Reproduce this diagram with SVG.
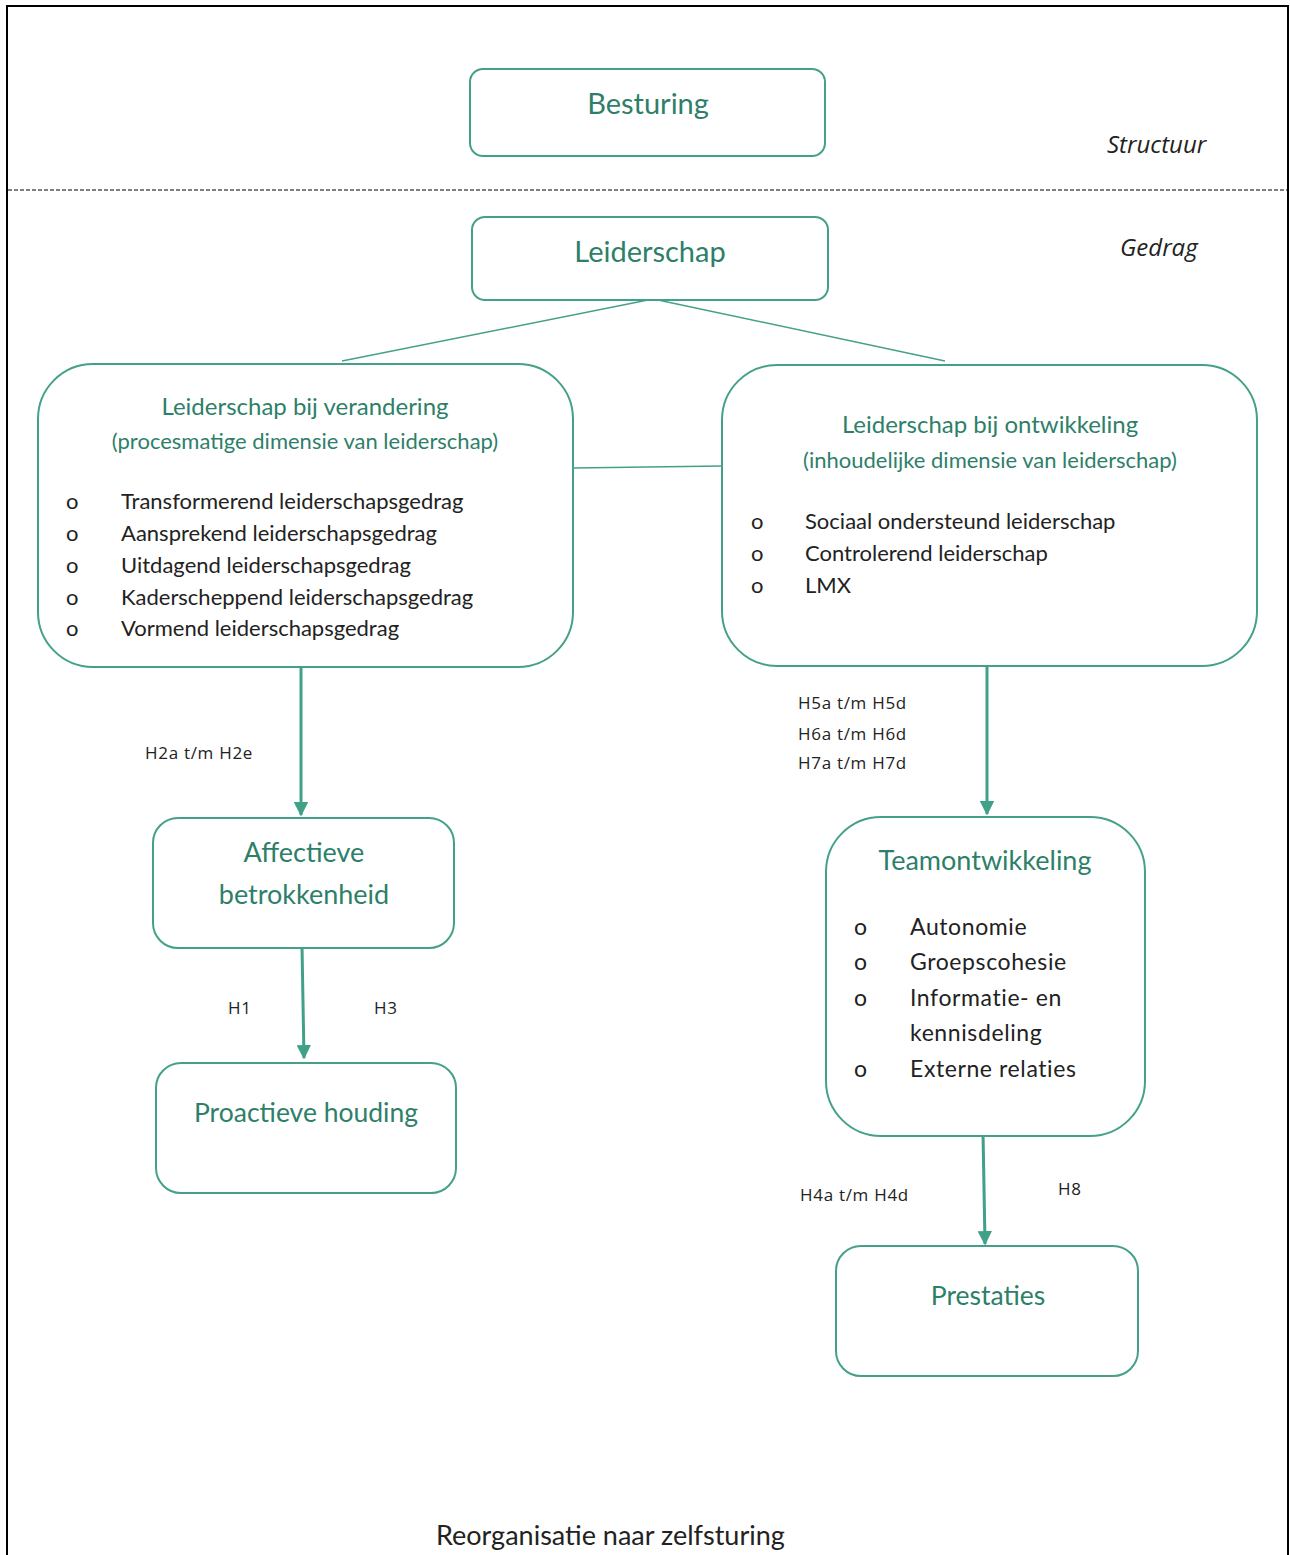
<svg xmlns="http://www.w3.org/2000/svg" width="1290" height="1555" viewBox="0 0 1290 1555">
  <defs>
    <marker id="arrow" viewBox="0 0 10 10" refX="9" refY="5" markerWidth="4.8" markerHeight="4.8" orient="auto" markerUnits="strokeWidth">
      <path d="M0,0 L10,5 L0,10 z" fill="#41a088"/>
    </marker>
    <style>
      text { font-family: Lato, "Open Sans", "Liberation Sans", sans-serif; }
      .box { fill: #ffffff; stroke: #45a08a; stroke-width: 2; }
      .title { fill: #2e7f6a; text-anchor: middle; }
      .item { fill: #222222; font-family: "Open Sans", "Liberation Sans", sans-serif; font-size: 22px; }
      .hyp { fill: #222222; font-family: "Open Sans", "Liberation Sans", sans-serif; font-size: 17px; letter-spacing: 0.7px; }
      .side { fill: #222222; font-family: "Open Sans", "Liberation Sans", sans-serif; font-size: 24px; font-style: italic; }
      .link { stroke: #45a08a; stroke-width: 1.5; fill: none; }
      .arrow { stroke: #41a088; stroke-width: 3; fill: none; marker-end: url(#arrow); }
    </style>
  </defs>

  <rect width="1290" height="1555" fill="#ffffff"/>

  <!-- outer frame (open at the bottom) -->
  <path d="M7,1555 V6 H1288 V1555" fill="none" stroke="#000000" stroke-width="2"/>
  <!-- structure / behaviour divider -->
  <line x1="8" y1="190" x2="1288" y2="190" stroke="#000000" stroke-width="1" stroke-dasharray="4,2"/>
  <text class="side" x="1107" y="153">Structuur</text>
  <text class="side" x="1120" y="256">Gedrag</text>

  <g id="connectors">
    <line class="link" x1="648" y1="300" x2="342" y2="361"/>
    <line class="link" x1="658" y1="300" x2="945" y2="361"/>
    <line class="link" x1="573" y1="468" x2="722" y2="466"/>
    <line class="arrow" x1="301" y1="667" x2="301" y2="815"/>
    <line class="arrow" x1="302" y1="946" x2="304" y2="1058"/>
    <line class="arrow" x1="987" y1="666" x2="987" y2="814"/>
    <line class="arrow" x1="983" y1="1132" x2="985" y2="1244"/>
    <text class="hyp" x="145" y="759">H2a t/m H2e</text>
    <text class="hyp" x="228" y="1014">H1</text>
    <text class="hyp" x="374" y="1014">H3</text>
    <text class="hyp" x="798" y="709">H5a t/m H5d</text>
    <text class="hyp" x="798" y="740">H6a t/m H6d</text>
    <text class="hyp" x="798" y="769">H7a t/m H7d</text>
    <text class="hyp" x="800" y="1201">H4a t/m H4d</text>
    <text class="hyp" x="1058" y="1195">H8</text>
  </g>

  <g id="besturing">
    <rect class="box" x="470" y="69" width="355" height="87" rx="13"/>
    <text class="title" x="648" y="114" font-size="29">Besturing</text>
  </g>

  <g id="leiderschap">
    <rect class="box" x="472" y="217" width="356" height="83" rx="13"/>
    <text class="title" x="650" y="262" font-size="29">Leiderschap</text>
  </g>

  <g id="verandering">
    <rect class="box" x="38" y="364" width="535" height="303" rx="55"/>
    <text class="title" x="305" y="415" font-size="24">Leiderschap bij verandering</text>
    <text class="title" x="305" y="449" font-size="22">(procesmatige dimensie van leiderschap)</text>
    <g class="item">
      <text x="66" y="509">o</text><text x="121" y="509">Transformerend leiderschapsgedrag</text>
      <text x="66" y="541">o</text><text x="121" y="541">Aansprekend leiderschapsgedrag</text>
      <text x="66" y="573">o</text><text x="121" y="573">Uitdagend leiderschapsgedrag</text>
      <text x="66" y="605">o</text><text x="121" y="605">Kaderscheppend leiderschapsgedrag</text>
      <text x="66" y="636">o</text><text x="121" y="636">Vormend leiderschapsgedrag</text>
    </g>
  </g>

  <g id="ontwikkeling">
    <rect class="box" x="722" y="365" width="535" height="301" rx="55"/>
    <text class="title" x="990" y="433" font-size="24">Leiderschap bij ontwikkeling</text>
    <text class="title" x="990" y="468" font-size="22">(inhoudelijke dimensie van leiderschap)</text>
    <g class="item">
      <text x="751" y="529">o</text><text x="805" y="529">Sociaal ondersteund leiderschap</text>
      <text x="751" y="561">o</text><text x="805" y="561">Controlerend leiderschap</text>
      <text x="751" y="593">o</text><text x="805" y="593">LMX</text>
    </g>
  </g>

  <g id="affectieve-betrokkenheid">
    <rect class="box" x="153" y="818" width="301" height="130" rx="25"/>
    <text class="title" x="304" y="862" font-size="27">Affectieve</text>
    <text class="title" x="304" y="904" font-size="27">betrokkenheid</text>
  </g>

  <g id="proactieve-houding">
    <rect class="box" x="156" y="1063" width="300" height="130" rx="25"/>
    <text class="title" x="306" y="1122" font-size="26.5">Proactieve houding</text>
  </g>

  <g id="teamontwikkeling">
    <rect class="box" x="826" y="817" width="319" height="319" rx="55"/>
    <text class="title" x="985" y="870" font-size="27">Teamontwikkeling</text>
    <g class="item" style="font-size:23px; letter-spacing:0.6px">
      <text x="854" y="935">o</text><text x="910" y="935">Autonomie</text>
      <text x="854" y="970">o</text><text x="910" y="970">Groepscohesie</text>
      <text x="854" y="1006">o</text><text x="910" y="1006">Informatie- en</text>
      <text x="910" y="1041">kennisdeling</text>
      <text x="854" y="1077">o</text><text x="910" y="1077">Externe relaties</text>
    </g>
  </g>

  <g id="prestaties">
    <rect class="box" x="836" y="1246" width="302" height="130" rx="25"/>
    <text class="title" x="988" y="1305" font-size="26.5">Prestaties</text>
  </g>

  <text x="436" y="1545" font-size="27" fill="#222222">Reorganisatie naar zelfsturing</text>
</svg>
